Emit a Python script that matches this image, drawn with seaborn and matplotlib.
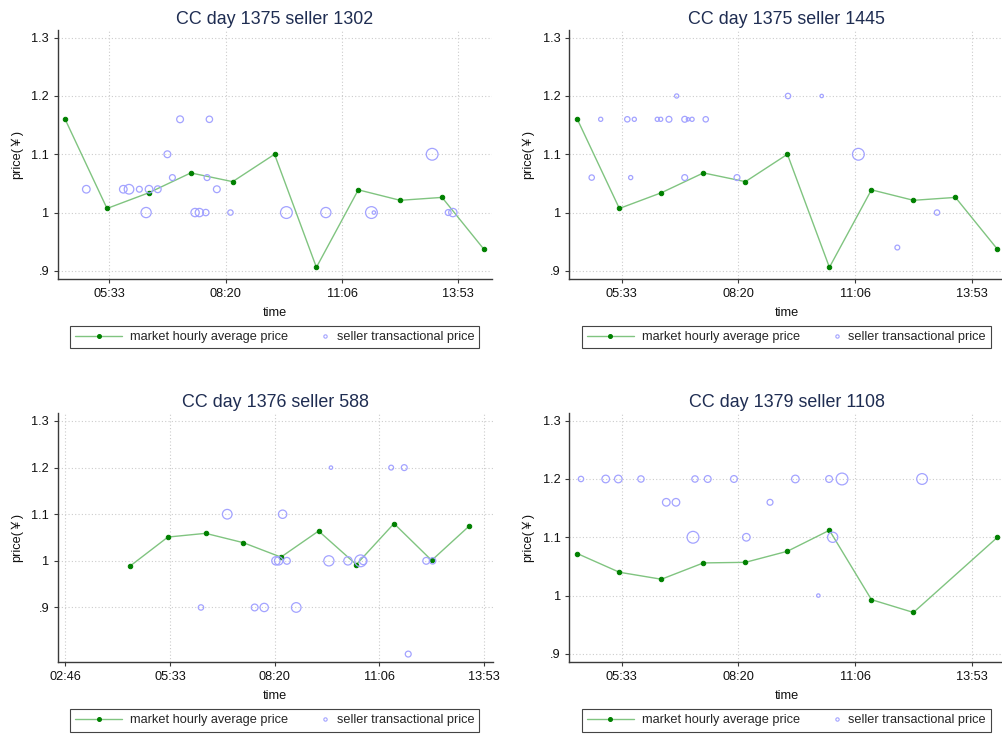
import matplotlib
matplotlib.use("Agg")
import numpy as np
import pandas as pd
import seaborn as sns
import matplotlib.pyplot as plt
from matplotlib.lines import Line2D
from matplotlib.legend_handler import HandlerBase
from matplotlib.ticker import FuncFormatter

# ---------------- data ----------------
titles = ["CC day 1375 seller 1302", "CC day 1375 seller 1445",
          "CC day 1376 seller 588", "CC day 1379 seller 1108"]

# market hourly average price (time in seconds since midnight)
mkt_t1 = [16200, 19800, 23400, 27000, 30600, 34200, 37800, 41400, 45000, 48600, 52200]
mkt_p1 = [1.160, 1.007, 1.034, 1.068, 1.053, 1.100, 0.906, 1.039, 1.021, 1.026, 0.937]
mkt_t2 = [16200, 19800, 23400, 27000, 30600, 34200, 37800, 41400, 45000, 48600, 52200]
mkt_p2 = [1.160, 1.007, 1.034, 1.068, 1.053, 1.100, 0.906, 1.039, 1.021, 1.026, 0.937]
mkt_t3 = [16200, 19800, 23400, 27000, 30600, 34200, 37800, 41400, 45000, 48600]
mkt_p3 = [0.989, 1.051, 1.059, 1.039, 1.008, 1.064, 0.992, 1.080, 1.001, 1.075]
mkt_t4 = [16200, 19800, 23400, 27000, 30600, 34200, 37800, 41400, 45000, 52200]
mkt_p4 = [1.072, 1.040, 1.028, 1.056, 1.057, 1.076, 1.112, 0.993, 0.971, 1.100]

# seller transactional price (time, price, quantity weight)
sel_t1 = [18020, 21200, 21690, 22580, 23160, 23410, 24160, 24990, 25420, 26080, 28600, 27370,
          27740, 28290, 28400, 29240, 30410, 35220, 38610, 42530, 42740, 47750, 49130, 49530]
sel_p1 = [1.04, 1.04, 1.04, 1.04, 1.00, 1.04, 1.04, 1.10, 1.06, 1.16, 1.16, 1.00,
          1.00, 1.00, 1.06, 1.04, 1.00, 1.00, 1.00, 1.00, 1.00, 1.10, 1.00, 1.00]
sel_q1 = [5, 5, 8, 3, 9, 5, 4, 4, 3, 4, 3.5, 6,
          6, 3.5, 3, 4, 2.5, 12, 9, 12, 1, 12, 3, 6]

sel_t2 = [18200, 20480, 21080, 23050, 23340, 24050, 25400, 25680, 26030, 27200, 24710, 34250,
          17430, 20770, 25400, 29880, 37140, 40280, 43620, 47020]
sel_p2 = [1.16, 1.16, 1.16, 1.16, 1.16, 1.16, 1.16, 1.16, 1.16, 1.16, 1.20, 1.20,
          1.06, 1.06, 1.06, 1.06, 1.20, 1.10, 0.94, 1.00]
sel_q2 = [1.5, 2.5, 1.5, 1.5, 1.5, 3, 3, 1, 1.5, 2.5, 1.5, 2.5,
          2.5, 1.5, 3, 3, 1, 12, 2, 2.5]

sel_t3 = [35380, 41130, 42380, 25470, 30760, 30120, 30380, 31170, 35180, 37000, 38210, 38460,
          44480, 45090, 28090, 29000, 32060, 42760, 22960]
sel_p3 = [1.20, 1.20, 1.20, 1.10, 1.10, 1.00, 1.00, 1.00, 1.00, 1.00, 1.00, 1.00,
          1.00, 1.00, 0.90, 0.90, 0.90, 0.80, 0.90]
sel_q3 = [1, 2, 3, 8, 6, 6, 6, 4, 9, 6, 12, 5,
          4, 3.5, 4, 6, 8, 3, 2.5]

sel_t4 = [16510, 18630, 19710, 21650, 26280, 27370, 29620, 34880, 23820, 24650, 32710, 26110,
          30680, 37770, 38880, 45740, 38080, 36850]
sel_p4 = [1.20, 1.20, 1.20, 1.20, 1.20, 1.20, 1.20, 1.20, 1.16, 1.16, 1.16, 1.10,
          1.10, 1.20, 1.20, 1.20, 1.10, 1.00]
sel_q4 = [2.5, 5, 5, 3.5, 3.5, 4, 4, 5, 5, 5, 3, 12,
          5, 4, 12, 10, 9, 1]

xticks_a = [20000, 30000, 40000, 50000]
xticks_b = [10000, 20000, 30000, 40000, 50000]
yticks = [0.9, 1.0, 1.1, 1.2, 1.3]
ytick_labels = [".9", "1", "1.1", "1.2", "1.3"]
legend_labels = ["market hourly average price", "seller transactional price"]

# ---------------- style ----------------
sns.set_theme(style="white")
plt.rcParams["font.family"] = ["Liberation Sans", "Noto Sans CJK SC", "DejaVu Sans"]

W, H = 1002, 734
fig = plt.figure(figsize=(W / 100, H / 100), dpi=100)
fig.patch.set_facecolor("white")


def rect(l, t, r, b):
    return [l / W, 1 - b / H, (r - l) / W, (b - t) / H]


LINE_C = "#80c480"
DOT_C = "#008000"
CIRC_C = "#a3a3ff"
TITLE_C = "#1f2d52"
AX_C = "#3a3a3a"


def hhmm(v, pos=None):
    v = int(v)
    return f"{v // 3600:02d}:{(v % 3600) // 60:02d}"


class RightDot(HandlerBase):
    def create_artists(self, legend, orig_handle, xdescent, ydescent, width, height, fontsize, trans):
        m = Line2D([-xdescent + width - 3], [(height - ydescent) / 2], marker="o", linestyle="none",
                   markersize=2.4, markerfacecolor="none", markeredgecolor=CIRC_C,
                   markeredgewidth=0.8, transform=trans)
        return [m]


panels = [
    dict(title=titles[0], mt=mkt_t1, mp=mkt_p1, st=sel_t1, sp=sel_p1, sq=sel_q1,
         box=(57.7, 30.3, 492.3, 279), xlim=(15560, 52920), ylim=(0.886, 1.3127),
         xticks=xticks_a, leg=(70, 337)),
    dict(title=titles[1], mt=mkt_t2, mp=mkt_p2, st=sel_t2, sp=sel_p2, sq=sel_q2,
         box=(569.3, 30.3, 1004, 279), xlim=(15510, 52760), ylim=(0.886, 1.3127),
         xticks=xticks_a, leg=(581.6, 337)),
    dict(title=titles[2], mt=mkt_t3, mp=mkt_p3, st=sel_t3, sp=sel_p3, sq=sel_q3,
         box=(57.7, 413.3, 492.7, 662), xlim=(9274, 50830), ylim=(0.783, 1.3165),
         xticks=xticks_b, leg=(70, 720.5)),
    dict(title=titles[3], mt=mkt_t4, mp=mkt_p4, st=sel_t4, sp=sel_p4, sq=sel_q4,
         box=(569.3, 413.3, 1004, 662), xlim=(15510, 52760), ylim=(0.886, 1.3127),
         xticks=xticks_a, leg=(581.6, 720.5)),
]

for p in panels:
    l, t, r, b = p["box"]
    ax = fig.add_axes(rect(l, t, r, b))
    ax.set_facecolor("white")
    ax.grid(True, linestyle=(0, (1, 2)), color="#cccccc", linewidth=0.8)
    ax.set_axisbelow(True)

    mdf = pd.DataFrame({"time": p["mt"], "price": p["mp"]})
    sdf = pd.DataFrame({"time": p["st"], "price": p["sp"], "qty": p["sq"]})

    sns.lineplot(data=mdf, x="time", y="price", ax=ax, color=LINE_C, linewidth=1.0,
                 estimator=None, sort=False, marker="o", markersize=3.2,
                 markerfacecolor=DOT_C, markeredgecolor=DOT_C, zorder=3)
    sns.scatterplot(data=sdf, x="time", y="price", size="qty", sizes=(6, 72), size_norm=(1, 12),
                    ax=ax, legend=False, zorder=4)
    for coll in ax.collections:
        coll.set_facecolor("none")
        coll.set_edgecolor(CIRC_C)
        coll.set_linewidth(0.9)

    ax.set_xlim(*p["xlim"])
    ax.set_ylim(*p["ylim"])
    ax.set_xticks(p["xticks"])
    ax.xaxis.set_major_formatter(FuncFormatter(hhmm))
    ax.set_yticks(yticks)
    ax.set_yticklabels(ytick_labels)

    for s in ["top", "right"]:
        ax.spines[s].set_visible(False)
    for s in ["left", "bottom"]:
        ax.spines[s].set_color(AX_C)
        ax.spines[s].set_linewidth(1.0)
    ax.tick_params(axis="both", direction="out", length=3.2, width=0.8, color=AX_C,
                   labelsize=9.2, pad=3, labelcolor="#111111", left=True, bottom=True)

    ax.set_title(p["title"], fontsize=12.9, color=TITLE_C, pad=4.5)
    ax.set_xlabel("time", fontsize=9.2, color="#111111")
    ax.set_ylabel("price(￥)", fontsize=9.2, color="#111111")
    hpx = b - t
    wpx = r - l
    ax.xaxis.set_label_coords(0.5, -(307 - 279) / hpx)
    ax.yaxis.set_label_coords((23 - 57.7) / wpx, 0.5)

    lh = Line2D([], [], color=LINE_C, linewidth=1.0, marker="o", markersize=2.6,
                markerfacecolor=DOT_C, markeredgecolor=DOT_C)
    sh = Line2D([], [], linestyle="none")
    lx, ly = p["leg"]
    leg = ax.legend([lh, sh], legend_labels, loc="center left",
                    bbox_to_anchor=(lx / W, 1 - ly / H), bbox_transform=fig.transFigure,
                    ncol=2, fontsize=9.2, frameon=True, fancybox=False, framealpha=1,
                    edgecolor="#444444", borderpad=0.4, handlelength=3.7, handletextpad=0.6,
                    columnspacing=-0.5, borderaxespad=0, numpoints=1,
                    handler_map={sh: RightDot()})
    leg.get_frame().set_linewidth(0.8)

fig.savefig("out.png", dpi=100, facecolor="white")
